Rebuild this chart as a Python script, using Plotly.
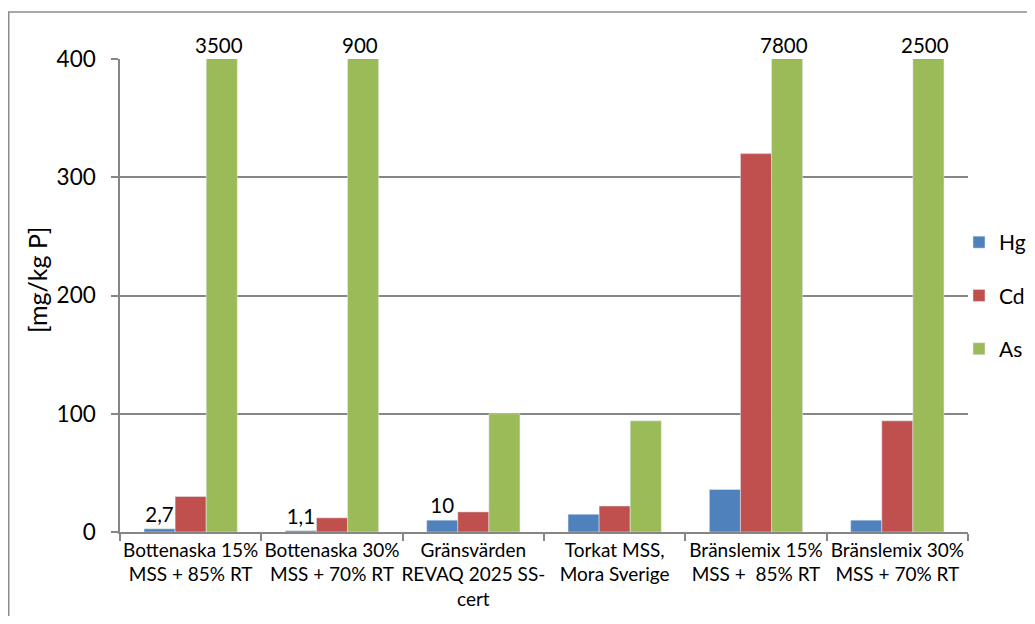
import plotly.graph_objects as go

categories = [
    "Bottenaska 15%<br>MSS + 85% RT",
    "Bottenaska 30%<br>MSS + 70% RT",
    "Gränsvärden<br>REVAQ 2025 SS-<br>cert",
    "Torkat MSS,<br>Mora Sverige",
    "Bränslemix 15%<br>MSS +  85% RT",
    "Bränslemix 30%<br>MSS + 70% RT",
]
hg = [2.7, 1.1, 10, 15, 36, 10]
cd = [30, 12, 17, 22, 320, 94]
as_ = [3500, 900, 100, 94, 7800, 2500]
hg_labels = ["2,7", "1,1", "10", "", "", ""]
y_max = 400
y_ticks = [0, 100, 200, 300, 400]

FONT = "Lato"
# page body has an 8px margin, so the figure is offset by 8px
W, H = 1027, 608
L, T = 112, 51
PW, PH = 848, 473
R = W - L - PW
B = H - T - PH
BOTTOM = T + PH  # figure y of the x axis

fig = go.Figure()
fig.add_trace(go.Bar(name="Hg", x=categories, y=hg, marker_color="#4F81BD",
                     text=hg_labels, textposition="outside", cliponaxis=False,
                     textfont=dict(size=20.5, color="black", family=FONT), legendgroup="hg"))
fig.add_trace(go.Bar(name="Cd", x=categories, y=cd, marker_color="#C0504D", legendgroup="cd"))
fig.add_trace(go.Bar(name="As", x=categories, y=as_, marker_color="#9BBB59", legendgroup="as"))

# labels for As bars that exceed the axis range
for i, v in enumerate(as_):
    if v > y_max:
        fig.add_annotation(x=categories[i], y=y_max, text=str(v), showarrow=False,
                           xshift=28, yanchor="bottom", yshift=0,
                           font=dict(size=20.5, color="black", family=FONT))

# y-axis title
fig.add_annotation(xref="paper", yref="paper", x=(29 - L) / PW, y=(BOTTOM - 272) / PH,
                   text="[mg/kg P]", textangle=-90, showarrow=False,
                   xanchor="center", yanchor="middle",
                   font=dict(size=25, color="black", family=FONT))

fig.add_shape(type="rect", xref="paper", yref="paper",
              x0=(0.75 - L) / PW, x1=1.3, y0=-0.4, y1=(BOTTOM - 4) / PH,
              line=dict(color="#8C8C8C", width=1.5), fillcolor="rgba(0,0,0,0)", layer="below")

fig.update_layout(
    width=W, height=H,
    margin=dict(l=L, r=R, t=T, b=B, autoexpand=False),
    paper_bgcolor="white", plot_bgcolor="white",
    barmode="group", bargap=0.34, bargroupgap=0,
    font=dict(family=FONT, color="black"),
    legend=dict(x=(951 - L) / PW, y=(BOTTOM - 214) / PH, xanchor="left", yanchor="top",
                font=dict(size=21, family=FONT), tracegroupgap=23, itemwidth=30,
                bgcolor="rgba(0,0,0,0)"),
    xaxis=dict(showline=True, linecolor="#868686", linewidth=1.5, automargin=False,
               ticks="outside", tickson="boundaries", ticklen=7, tickcolor="#868686",
               tickwidth=1.5, tickangle=0, tickfont=dict(size=19, family=FONT),
               showgrid=False),
    yaxis=dict(range=[0, y_max], tickvals=y_ticks, showline=True, linecolor="#868686",
               linewidth=1.5, ticks="outside", ticklen=7, tickcolor="#868686", tickwidth=1.5,
               showgrid=True, gridcolor="#868686", gridwidth=1.5, zeroline=False,
               automargin=False, tickfont=dict(size=22.5, family=FONT), ticklabelstandoff=11),
)

fig.write_html("out.html")
